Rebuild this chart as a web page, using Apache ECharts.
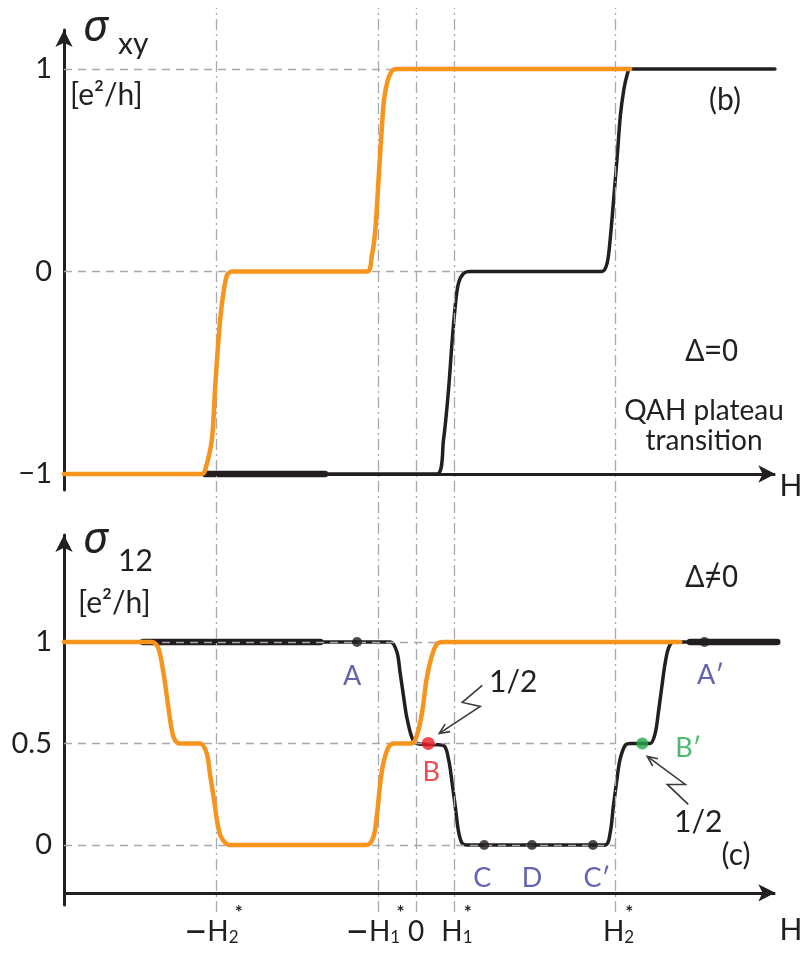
<!DOCTYPE html>
<html>
<head>
<meta charset="utf-8">
<script src="https://cdn.jsdelivr.net/npm/echarts@6/dist/echarts.min.js"></script>
<style>
  html, body { margin: 0; padding: 0; background: #fff; }
  #chart { width: 807px; height: 956px; }
</style>
</head>
<body>
<div id="chart"></div>
<script>
// ---- field axis (H) ----
const H1 = 0.97;
const H2 = 5.1;
const fieldTicks = [-H2, -H1, 0, H1, H2];
const fieldTickSign = ['−', '−', '', '', ''];
const fieldTickBase = ['H', 'H', '0', 'H', 'H'];
const fieldTickSub = ['2', '1', '', '1', '2'];

// ---- panel (b): Hall conductance sigma_xy, Delta = 0 ----
const sxyTicks = [-1, 0, 1];
const sxyOrangeH = [-9, -5.47, -5.39, -5.22, -5.14, -5.05, -4.97, -4.84, -4.71, -1.26, -1.13, -1.05, -0.99, -0.94, -0.88, -0.82, -0.73, -0.62, -0.49, 5.47];
const sxyOrangeV = [-1, -1, -0.98, -0.83, -0.58, -0.33, -0.17, -0.02, 0, 0, 0.08, 0.19, 0.36, 0.52, 0.70, 0.85, 0.94, 0.99, 1, 1];
const sxyBlackH = [-5.39, 0.53, 0.70, 0.83, 0.91, 1.00, 1.08, 1.21, 1.38, 4.75, 4.88, 4.96, 5.05, 5.14, 5.22, 5.31, 5.39, 5.47, 9.17];
const sxyBlackV = [-1, -1, -0.83, -0.58, -0.37, -0.17, -0.06, -0.01, 0, 0, 0.04, 0.16, 0.36, 0.57, 0.77, 0.90, 0.97, 1, 1];
const sxyBoldH = [-5.39, -2.33];
const sxyBoldV = [-1, -1];

// ---- panel (c): sigma_12, Delta != 0 ----
const s12Ticks = [0, 0.5, 1];
const s12OrangeH = [-9, -6.75, -6.59, -6.46, -6.37, -6.29, -6.20, -6.07, -5.95, -5.52, -5.35, -5.27, -5.18, -5.09, -5.01, -4.88, -4.75, -1.26, -1.09, -1.00, -0.92, -0.84, -0.71, -0.58, -0.11, 0.02, 0.15, 0.27, 0.40, 0.53, 0.70, 6.75];
const s12OrangeV = [1, 1, 0.97, 0.85, 0.73, 0.62, 0.53, 0.50, 0.5, 0.5, 0.45, 0.35, 0.24, 0.12, 0.05, 0.01, 0, 0, 0.04, 0.15, 0.30, 0.40, 0.48, 0.5, 0.5, 0.54, 0.65, 0.82, 0.93, 0.99, 1, 1];
const s12BlackH = [-6.98, -0.66, -0.49, -0.41, -0.32, -0.24, -0.11, 0.02, 0.70, 0.83, 0.91, 1.00, 1.08, 1.17, 1.30, 4.83, 4.96, 5.04, 5.13, 5.21, 5.34, 5.47, 5.98, 6.11, 6.19, 6.28, 6.36, 6.45, 6.58, 9.23];
const s12BlackV = [1, 1, 0.95, 0.85, 0.73, 0.63, 0.53, 0.5, 0.49, 0.42, 0.32, 0.19, 0.07, 0.01, 0, 0, 0.06, 0.19, 0.32, 0.42, 0.49, 0.5, 0.5, 0.55, 0.65, 0.78, 0.89, 0.97, 1, 1];
const s12BoldLeftH = [-6.98, -2.45];
const s12BoldLeftV = [1, 1];
const s12BoldRightH = [7.0, 9.23];
const s12BoldRightV = [1, 1];

// labelled states on the sigma_12 curve
const pointNames = ['A', 'B', 'C', 'D', 'C′', 'B′', 'A′'];
const pointH = [-1.51, 0.31, 1.74, 2.96, 4.52, 5.78, 7.37];
const pointV = [1, 0.5, 0, 0, 0, 0.5, 1];

// ---- styling ----
const FONT = "Lato, 'Noto Sans', 'DejaVu Sans', sans-serif";
const GREEK = "'Noto Sans', 'DejaVu Sans', sans-serif";
const INK = '#231f20';
const ORANGE = '#f7941e';
const GRAY = '#a7a9ac';
const BLUE = '#3b3d9c';
const RED = '#ec1c24';
const GREEN = '#1fa84d';
const CLEAR = 'rgba(0,0,0,0)';

const pointStyle = {
  'A':  { dot: INK, text: BLUE, size: 10, offset: [-5, 34] },
  'B':  { dot: RED, text: RED, size: 13, offset: [3, 29] },
  'C':  { dot: INK, text: BLUE, size: 10, offset: [-2, 33] },
  'D':  { dot: INK, text: BLUE, size: 10, offset: [0, 33] },
  'C′': { dot: INK, text: BLUE, size: 10, offset: [4, 33] },
  'B′': { dot: GREEN, text: GREEN, size: 12, offset: [46, 5] },
  'A′': { dot: INK, text: BLUE, size: 10, offset: [6, 33] }
};

const zip = (xs, ys) => xs.map((x, i) => [x, ys[i]]);
const signed = v => (v < 0 ? '−' + Math.abs(v) : String(v));

const H_MIN = -9, H_MAX = 9.3;

function hiddenX(gridIndex) {
  return {
    type: 'value', gridIndex, min: H_MIN, max: H_MAX,
    axisLine: { show: false }, axisTick: { show: false },
    axisLabel: { show: false }, splitLine: { show: false }
  };
}

function yAxisFor(gridIndex, min, max, ticks) {
  return {
    type: 'value', gridIndex, min, max,
    axisLine: {
      show: true, onZero: false,
      lineStyle: { color: INK, width: 3 },
      symbol: ['none', 'arrow'], symbolSize: [13, 17]
    },
    axisTick: { show: false },
    splitLine: { show: false },
    axisLabel: {
      customValues: ticks, margin: 12,
      color: INK, fontFamily: FONT, fontSize: 29,
      formatter: v => signed(v)
    }
  };
}

// H-axis labels: a starred line above "H" with its subscript
function fieldLabel(value) {
  const i = fieldTicks.findIndex(t => Math.abs(t - value) < 1e-6);
  if (i < 0) return '';
  if (fieldTickBase[i] === '0') return '{st| }\n{h|0}';
  const neg = fieldTickSign[i] !== '';
  const top = (neg ? '{spm|−}' : '{pad2|2}') + '{sp|H}{st|*}';
  const bottom = (neg ? '{mn|−}' : '{pad2|2}') + '{h|H}{sb|' + fieldTickSub[i] + '}' + (neg ? '{pad|−}' : '');
  return top + '\n' + bottom;
}

function dashed(x0, x1, y) {
  return [{ coord: [x0, y] }, { coord: [x1, y] }];
}

function axisArrow(y) {
  return {
    silent: true, symbol: ['none', 'arrow'], symbolSize: [13, 17],
    label: { show: false },
    lineStyle: { color: INK, width: 3, type: 'solid' },
    data: [[{ coord: [H_MIN, y] }, { coord: [9.18, y] }]]
  };
}

function curve(name, xs, ys, color, width, gi, z) {
  return {
    name, type: 'line', xAxisIndex: gi, yAxisIndex: gi,
    data: zip(xs, ys), smooth: 0.3, showSymbol: false, symbol: 'none',
    lineStyle: { color, width, cap: 'round', join: 'round' },
    z, silent: true, clip: false
  };
}

const chart = echarts.init(document.getElementById('chart'), null, { renderer: 'canvas' });

const option = {
  animation: false,
  backgroundColor: '#fff',
  grid: [
    { left: 64, top: 30, width: 716, height: 460 },
    { left: 64, top: 535, width: 716, height: 370 },
    { left: 64, top: 8, width: 716, height: 904 }
  ],
  xAxis: [
    hiddenX(0),
    Object.assign(hiddenX(1), {
      axisLabel: {
        show: true, customValues: fieldTicks, margin: 2,
        formatter: fieldLabel,
        rich: {
          spm: { color: CLEAR, fontFamily: FONT, fontSize: 40, lineHeight: 11 },
          sp:  { color: CLEAR, fontFamily: FONT, fontSize: 28, lineHeight: 11 },
          st:  { color: INK, fontFamily: FONT, fontSize: 19, fontWeight: 'bold', lineHeight: 11 },
          mn:  { color: INK, fontFamily: FONT, fontSize: 40, lineHeight: 28 },
          h:   { color: INK, fontFamily: FONT, fontSize: 28, lineHeight: 28 },
          sb:  { color: INK, fontFamily: FONT, fontSize: 17, lineHeight: 17, verticalAlign: 'bottom', padding: [12, 0, 0, 0] },
          pad: { color: CLEAR, fontFamily: FONT, fontSize: 18, lineHeight: 28 },
          pad2:{ color: CLEAR, fontFamily: FONT, fontSize: 10, lineHeight: 11 }
        }
      }
    }),
    hiddenX(2)
  ],
  yAxis: [
    yAxisFor(0, -1.079, 1.193, sxyTicks),
    yAxisFor(1, -0.296, 1.527, s12Ticks),
    { type: 'value', gridIndex: 2, min: 0, max: 1, show: false }
  ],
  series: [
    // dash-dot guides at the characteristic fields, running through both panels
    {
      type: 'line', xAxisIndex: 2, yAxisIndex: 2, data: [], silent: true, z: 1,
      markLine: {
        silent: true, symbol: 'none', label: { show: false },
        lineStyle: { color: GRAY, width: 1.3, type: [11, 4, 2, 4] },
        data: fieldTicks.map(v => ({ xAxis: v }))
      }
    },
    // panel (b) level guides and H axis
    {
      type: 'line', xAxisIndex: 0, yAxisIndex: 0, data: [], silent: true, z: 1, clip: false,
      markLine: {
        silent: true, symbol: 'none', label: { show: false },
        lineStyle: { color: GRAY, width: 1.3, type: [8, 6] },
        data: [dashed(H_MIN, H2, 1), dashed(H_MIN, 1.2, 0)]
      }
    },
    { type: 'line', xAxisIndex: 0, yAxisIndex: 0, data: [], silent: true, z: 3, clip: false, markLine: axisArrow(-1) },
    curve('σxy bold', sxyBoldH, sxyBoldV, INK, 6.5, 0, 4),
    curve('σxy black', sxyBlackH, sxyBlackV, INK, 3.5, 0, 4),
    curve('σxy orange', sxyOrangeH, sxyOrangeV, ORANGE, 4.5, 0, 5),

    // panel (c) level guides and H axis
    {
      type: 'line', xAxisIndex: 1, yAxisIndex: 1, data: [], silent: true, z: 1, clip: false,
      markLine: {
        silent: true, symbol: 'none', label: { show: false },
        lineStyle: { color: GRAY, width: 1.3, type: [8, 6] },
        data: [dashed(H_MIN, H2, 1), dashed(H_MIN, H2, 0.5), dashed(H_MIN, H2, 0)]
      }
    },
    { type: 'line', xAxisIndex: 1, yAxisIndex: 1, data: [], silent: true, z: 3, clip: false, markLine: axisArrow(-0.236) },
    curve('σ12 bold left', s12BoldLeftH, s12BoldLeftV, INK, 6.5, 1, 4),
    curve('σ12 bold right', s12BoldRightH, s12BoldRightV, INK, 6.5, 1, 4),
    curve('σ12 black', s12BlackH, s12BlackV, INK, 3.5, 1, 4),
    curve('σ12 orange', s12OrangeH, s12OrangeV, ORANGE, 4.5, 1, 5),
    {
      name: 'states', type: 'scatter', xAxisIndex: 1, yAxisIndex: 1, z: 6, silent: true,
      data: pointNames.map((n, i) => ({
        name: n, value: [pointH[i], pointV[i]],
        symbolSize: pointStyle[n].size,
        itemStyle: { color: pointStyle[n].dot },
        label: {
          show: true, position: 'inside', formatter: '{b}',
          offset: pointStyle[n].offset,
          color: pointStyle[n].text, fontFamily: FONT, fontSize: 27
        }
      }))
    }
  ]
};

chart.setOption(option);

// text annotations and the zig-zag pointers to the half-integer states
function txt(text, x, y, size, opts) {
  opts = opts || {};
  return {
    type: 'text', silent: true, z: 20,
    style: {
      text, x, y,
      fill: opts.fill || INK,
      font: (opts.italic ? 'italic ' : '') + size + 'px ' + (opts.family || FONT),
      align: opts.align || 'left', verticalAlign: 'middle',
      textAlign: opts.align || 'left', textVerticalAlign: 'middle'
    }
  };
}

function zigzag(anchor, rel) {
  const pts = rel.map(p => [anchor[0] + p[0], anchor[1] + p[1]]);
  const tip = pts[pts.length - 1];
  const prev = pts[pts.length - 2];
  const ang = Math.atan2(tip[1] - prev[1], tip[0] - prev[0]);
  const L = 11, spread = 0.42;
  const w1 = [tip[0] - L * Math.cos(ang - spread), tip[1] - L * Math.sin(ang - spread)];
  const w2 = [tip[0] - L * Math.cos(ang + spread), tip[1] - L * Math.sin(ang + spread)];
  const style = { stroke: '#3a3a3a', lineWidth: 1.6, fill: null };
  return [
    { type: 'polyline', silent: true, z: 20, shape: { points: pts }, style },
    { type: 'polyline', silent: true, z: 20, shape: { points: [w1, tip, w2] }, style }
  ];
}

const iB = pointNames.indexOf('B');
const iB2 = pointNames.indexOf('B′');
const pB = chart.convertToPixel({ gridIndex: 1 }, [pointH[iB], pointV[iB]]);
const pB2 = chart.convertToPixel({ gridIndex: 1 }, [pointH[iB2], pointV[iB2]]);

const graphics = [
  txt('σ', 83, 28, 44, { italic: true, family: GREEK }),
  txt('xy', 118, 44, 30),
  txt('[e²/h]', 70, 95, 30),
  txt('(b)', 725, 100, 30, { align: 'center' }),
  txt('Δ=0', 712, 352, 30, { align: 'center', family: GREEK }),
  txt('QAH plateau', 704, 411, 28, { align: 'center' }),
  txt('transition', 704, 441, 28, { align: 'center' }),
  txt('H', 791, 486, 30, { align: 'center' }),
  txt('σ', 83, 540, 44, { italic: true, family: GREEK }),
  txt('12', 118, 561, 30),
  txt('[e²/h]', 78, 603, 30),
  txt('Δ≠0', 712, 578, 30, { align: 'center', family: GREEK }),
  txt('(c)', 736, 855, 30, { align: 'center' }),
  txt('H', 791, 930, 30, { align: 'center' }),
  txt('1/2', pB[0] + 85, pB[1] - 61, 30, { align: 'center' }),
  txt('1/2', pB2[0] + 56, pB2[1] + 79, 30, { align: 'center' })
].concat(
  zigzag(pB, [[54, -58], [34, -41], [52, -37], [11, -10]]),
  zigzag(pB2, [[46, 61], [25, 41], [43, 41], [5, 13]])
);

chart.setOption({ graphic: graphics });
</script>
</body>
</html>
